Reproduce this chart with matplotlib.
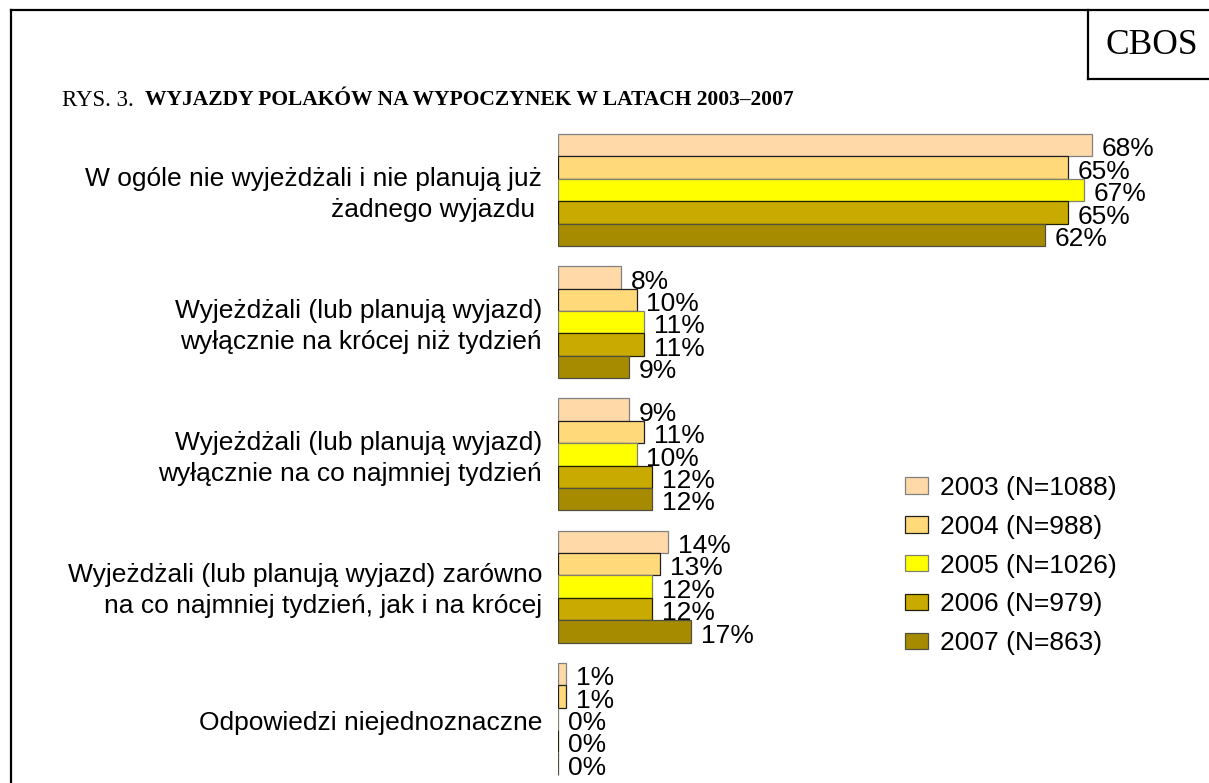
import matplotlib
matplotlib.use("Agg")
import matplotlib.pyplot as plt
from matplotlib.lines import Line2D

categories = [
    "W ogóle nie wyjeżdżali i nie planują już\nżadnego wyjazdu ",
    "Wyjeżdżali (lub planują wyjazd)\nwyłącznie na krócej niż tydzień",
    "Wyjeżdżali (lub planują wyjazd)\nwyłącznie na co najmniej tydzień",
    "Wyjeżdżali (lub planują wyjazd) zarówno\nna co najmniej tydzień, jak i na krócej",
    "Odpowiedzi niejednoznaczne",
]
series_labels = ["2003 (N=1088)", "2004 (N=988)", "2005 (N=1026)", "2006 (N=979)", "2007 (N=863)"]
v2003 = [68, 8, 9, 14, 1]
v2004 = [65, 10, 11, 13, 1]
v2005 = [67, 11, 10, 12, 0]
v2006 = [65, 11, 12, 12, 0]
v2007 = [62, 9, 12, 17, 0]
series = [v2003, v2004, v2005, v2006, v2007]

colors = ["#FFD9A8", "#FFD97A", "#FFFF00", "#C9AA00", "#A68B00"]
edges = ["#808080", "#202020", "#808070", "#202000", "#505040"]

W, H = 1209, 783
fig = plt.figure(figsize=(W / 100, H / 100), dpi=100)
fig.patch.set_facecolor("white")

px_per_unit_x = 7.85
bar_px = 22.4
group_px = 132.2
G = group_px / bar_px
top_px = 134
ax_top_px, ax_bot_px = 120, 783
ax_left_px, ax_right_px = 558, 1185
ax = fig.add_axes([ax_left_px / W, (H - ax_bot_px) / H,
                   (ax_right_px - ax_left_px) / W, (ax_bot_px - ax_top_px) / H])
ax.set_xlim(0, (ax_right_px - ax_left_px) / px_per_unit_x)
ax.set_ylim((ax_bot_px - top_px) / bar_px, (ax_top_px - top_px) / bar_px)
ax.axis("off")

FS = 19
FONT = "Liberation Sans"
for j, vals in enumerate(series):
    ys = [g * G + j + 0.5 for g in range(len(categories))]
    ax.barh(ys, vals, height=1.0, color=colors[j], edgecolor=edges[j],
            linewidth=0.9, label=series_labels[j])
    for y, v in zip(ys, vals):
        ax.annotate(f"{v}%", xy=(v, y), xytext=(7.0, -3.0), textcoords="offset points",
                    ha="left", va="center", fontsize=FS, family=FONT, clip_on=False)

for g, cat in enumerate(categories):
    yc = g * G + 2.5
    ax.annotate(cat, xy=(0, yc), xytext=(-11.5, -3.0), textcoords="offset points",
                ha="right", va="center", multialignment="right", fontsize=FS,
                family=FONT, linespacing=1.36, annotation_clip=False)

handles, labels = ax.get_legend_handles_labels()
leg = fig.legend(handles, labels, loc="upper left", bbox_to_anchor=(905 / W, 1 - 476 / H),
                 frameon=False, prop={"family": FONT, "size": FS}, handlelength=0.88,
                 handleheight=0.58, handletextpad=0.45, labelspacing=0.56, borderaxespad=0,
                 borderpad=0)

# title
TFS = 15.5
fig.text(62 / W, 1 - 100 / H, "RYS. 3.", family="Liberation Serif", fontsize=16.5,
         ha="left", va="center")
fig.text(145 / W, 1 - 100 / H, "WYJAZDY POLAKÓW NA WYPOCZYNEK W LATACH 2003–2007",
         family="Liberation Serif", fontsize=TFS, fontweight="bold", ha="left", va="center")

fig.text(1152 / W, 1 - 45 / H, "CBOS", family="Liberation Serif", fontsize=25.5,
         ha="center", va="center")

def fline(x0, y0, x1, y1):
    fig.add_artist(Line2D([x0 / W, x1 / W], [1 - y0 / H, 1 - y1 / H],
                          transform=fig.transFigure, color="black", linewidth=1.6))

fline(11, 10, W, 10)
fline(11, 10, 11, H)
fline(1088, 10, 1088, 79)
fline(1088, 79, W, 79)

fig.savefig("out.png", dpi=100, facecolor="white")
